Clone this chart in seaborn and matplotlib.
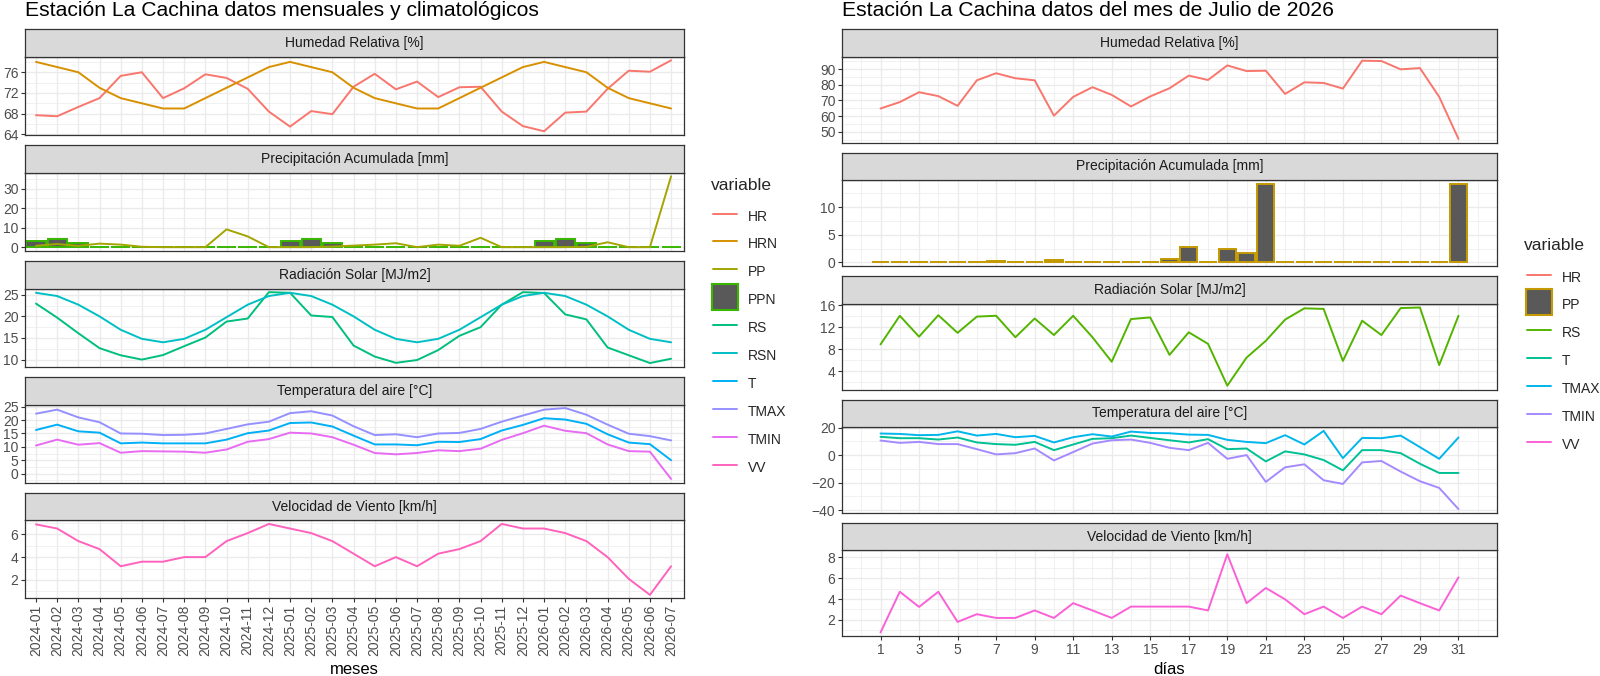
import pandas as pd
import matplotlib
matplotlib.use("Agg")
import matplotlib.pyplot as plt
import seaborn as sns
from matplotlib.ticker import MultipleLocator, FixedLocator
from matplotlib.lines import Line2D

# ---------------- datos mensuales (izquierda) ----------------
meses = ["2024-01", "2024-02", "2024-03", "2024-04", "2024-05", "2024-06", "2024-07",
         "2024-08", "2024-09", "2024-10", "2024-11", "2024-12", "2025-01", "2025-02",
         "2025-03", "2025-04", "2025-05", "2025-06", "2025-07", "2025-08", "2025-09",
         "2025-10", "2025-11", "2025-12", "2026-01", "2026-02", "2026-03", "2026-04",
         "2026-05", "2026-06", "2026-07"]

hr_m = [67.7, 67.5, 69.3, 71.0, 75.3, 76.0, 71.0, 72.9, 75.6, 74.9, 72.8, 68.4, 65.5, 68.5,
        67.9, 73.2, 75.7, 72.7, 74.2, 71.2, 73.1, 73.2, 68.4, 65.6, 64.6, 68.2, 68.4, 72.8,
        76.3, 76.1, 78.3]
hrn_m = [78, 77, 76, 73, 71, 70, 69, 69, 71, 73, 75, 77, 78, 77, 76, 73, 71, 70, 69, 69,
         71, 73, 75, 77, 78, 77, 76, 73, 71, 70, 69]
pp_m = [0.7, 1.6, 0.7, 1.8, 1.3, 0.2, 0, 0, 0, 9.1, 5.5, 0, 0, 0, 0.3, 0.8, 1.3, 2.0, 0,
        1.3, 0.7, 4.8, 0, 0, 0, 0, 0.2, 2.5, 0, 0, 36.3]
ppn_m = [3.2, 4.0, 2.0, 0, 0, 0, 0, 0, 0, 0, 0, 0, 3.2, 4.0, 2.0, 0, 0, 0, 0, 0, 0, 0, 0, 0,
         3.2, 4.0, 2.0, 0, 0, 0, 0]
rs_m = [22.95, 19.7, 16.1, 12.65, 11.0, 10.0, 11.05, 13.1, 15.1, 18.8, 19.5, 25.6, 25.45,
        20.2, 19.85, 13.25, 10.7, 9.25, 9.9, 12.2, 15.5, 17.5, 22.7, 25.6, 25.4, 20.45, 19.3,
        12.8, 11.0, 9.2, 10.2]
rsn_m = [25.45, 24.7, 22.7, 20.0, 16.9, 14.8, 14.0, 14.8, 16.9, 19.8, 22.7, 24.7, 25.45,
         24.7, 22.7, 20.0, 16.9, 14.8, 14.0, 14.8, 16.9, 19.8, 22.7, 24.7, 25.45, 24.7, 22.7,
         20.0, 16.9, 14.8, 14.0]
tmax_m = [22.4, 23.9, 21.0, 19.2, 15.0, 14.9, 14.4, 14.5, 15.0, 16.7, 18.4, 19.4, 22.6, 23.3,
          21.7, 17.7, 14.4, 14.7, 13.6, 15.0, 15.2, 16.7, 19.4, 21.7, 23.9, 24.5, 22.0, 18.3,
          14.9, 14.0, 12.4]
t_m = [16.3, 18.3, 15.8, 15.3, 11.3, 11.6, 11.3, 11.3, 11.3, 12.7, 15.1, 16.1, 18.9, 19.1,
       17.6, 14.2, 10.9, 10.9, 10.6, 11.9, 11.8, 12.9, 16.1, 18.2, 20.7, 20.2, 18.6, 14.7,
       11.6, 11.0, 5.0]
tmin_m = [10.5, 12.7, 10.8, 11.4, 7.8, 8.4, 8.3, 8.2, 7.8, 9.0, 11.9, 12.9, 15.3, 15.0, 13.6,
          10.8, 7.7, 7.2, 7.7, 8.7, 8.4, 9.3, 12.6, 15.1, 17.9, 16.0, 15.1, 10.9, 8.4, 8.2, -2.0]
vv_m = [6.86, 6.5, 5.4, 4.7, 3.2, 3.6, 3.6, 4.0, 4.0, 5.4, 6.1, 6.9, 6.5, 6.1, 5.4, 4.3, 3.2,
        4.0, 3.2, 4.3, 4.7, 5.4, 6.9, 6.5, 6.5, 6.1, 5.4, 4.0, 2.1, 0.7, 3.2]

# ---------------- datos diarios julio 2026 (derecha) ----------------
dias = list(range(1, 32))
hr_d = [64.8, 68.9, 75.2, 72.7, 66.5, 82.8, 87.3, 84.1, 82.8, 60.2, 72.2, 78.4, 73.5, 66.1,
        72.5, 77.7, 85.8, 83.0, 92.3, 88.7, 88.9, 74.1, 81.5, 81.1, 77.5, 95.3, 95.1, 89.8,
        90.6, 72.2, 45.4]
pp_d = [0, 0, 0, 0, 0, 0, 0.25, 0, 0, 0.4, 0, 0, 0, 0, 0, 0.6, 2.8, 0, 2.5, 1.6, 14.2, 0,
        0, 0, 0, 0, 0, 0, 0, 0, 14.2]
rs_d = [8.9, 14.1, 10.3, 14.2, 11.0, 13.95, 14.1, 10.2, 13.6, 10.6, 14.1, 10.2, 5.75, 13.5,
        13.8, 7.0, 11.1, 9.0, 1.4, 6.5, 9.55, 13.4, 15.45, 15.35, 5.9, 13.2, 10.6, 15.5, 15.6,
        5.15, 14.1]
t_d = [13.3, 12.3, 12.3, 11.3, 12.8, 9.2, 8.0, 7.5, 9.6, 3.6, 7.7, 11.8, 12.3, 14.2, 12.5,
       10.8, 9.2, 11.6, 4.3, 4.8, -4.6, 2.7, 0.5, -3.6, -11.1, 3.6, 3.6, 1.4, -6.3, -13.0, -13.0]
tmax_d = [15.7, 15.4, 14.5, 14.7, 17.3, 14.2, 15.4, 13.0, 14.0, 9.2, 13.0, 15.2, 13.5, 17.1,
          16.1, 15.9, 14.9, 14.7, 11.1, 9.6, 8.7, 14.5, 7.7, 17.6, -2.2, 12.5, 12.3, 14.2, 5.8,
          -2.7, 12.8]
tmin_d = [10.6, 8.9, 9.6, 8.0, 8.0, 4.3, 0.5, 1.4, 4.8, -3.9, 2.2, 8.4, 10.8, 11.3, 8.9, 5.3,
          3.6, 8.9, -2.7, 0.0, -19.5, -8.9, -6.7, -18.3, -21.0, -5.3, -4.3, -12.0, -19.0,
          -23.9, -39.3]
vv_d = [0.78, 4.7, 3.24, 4.7, 1.8, 2.54, 2.18, 2.18, 2.9, 2.18, 3.6, 2.9, 2.18, 3.27, 3.27,
        3.27, 3.27, 2.9, 8.3, 3.6, 5.06, 3.97, 2.54, 3.27, 2.18, 3.27, 2.54, 4.33, 3.6, 2.9,
        6.08]

tit_paneles = ["Humedad Relativa [%]", "Precipitación Acumulada [mm]", "Radiación Solar [MJ/m2]",
               "Temperatura del aire [°C]", "Velocidad de Viento [km/h]"]

# colores hue de ggplot
col_izq = {"HR": "#F8766D", "HRN": "#D89000", "PP": "#A3A500", "PPN": "#39B600",
           "RS": "#00BF7D", "RSN": "#00BFC4", "T": "#00B0F6", "TMAX": "#9590FF",
           "TMIN": "#E76BF3", "VV": "#FF62BC"}
col_der = {"HR": "#F8766D", "PP": "#C49A00", "RS": "#53B400", "T": "#00C094",
           "TMAX": "#00B6EB", "TMIN": "#A58AFF", "VV": "#FB61D7"}

mens = pd.DataFrame({"x": range(len(meses)), "HR": hr_m, "HRN": hrn_m, "PP": pp_m,
                     "PPN": ppn_m, "RS": rs_m, "RSN": rsn_m, "T": t_m, "TMAX": tmax_m,
                     "TMIN": tmin_m, "VV": vv_m})
mens = mens.melt(id_vars="x", var_name="variable", value_name="valor")
diar = pd.DataFrame({"x": dias, "HR": hr_d, "PP": pp_d, "RS": rs_d, "T": t_d,
                     "TMAX": tmax_d, "TMIN": tmin_d, "VV": vv_d})
diar = diar.melt(id_vars="x", var_name="variable", value_name="valor")

sns.set_theme(style="white")
plt.rcParams["font.family"] = ["Liberation Sans", "DejaVu Sans"]

W, H = 1600, 676
TXT = 10  # tamaño texto ejes / strips
fig = plt.figure(figsize=(16, 6.76), dpi=100)


def caja(x0, y0, x1, y1):
    return [x0 / W, 1 - y1 / H, (x1 - x0) / W, (y1 - y0) / H]


def dibujar(df, colores, lineas, barras, ybreaks, x0, x1, strip_top, paso, panel_h,
            xlim, ultimo):
    axes = []
    for i in range(5):
        s0 = strip_top + paso * i
        s1 = s0 + 27.5
        ax = fig.add_axes(caja(x0, s1, x1, s1 + panel_h))
        st = fig.add_axes(caja(x0, s0, x1, s1))
        st.set_facecolor("#D9D9D9")
        st.set_xticks([])
        st.set_yticks([])
        for sp in st.spines.values():
            sp.set_color("#333333")
            sp.set_linewidth(0.9)
        st.text(0.5, 0.5, tit_paneles[i], ha="center", va="center", fontsize=TXT,
                color="#1A1A1A", transform=st.transAxes)

        vals = []
        for var in barras[i]:
            sub = df[df.variable == var]
            ax.bar(sub.x, sub.valor, width=0.9, color="#595959",
                   edgecolor=colores[var], linewidth=1.4, zorder=2)
            vals += list(sub.valor)
        sub = df[df.variable.isin(lineas[i])]
        sns.lineplot(data=sub, x="x", y="valor", hue="variable",
                     palette={v: colores[v] for v in lineas[i]}, legend=False,
                     linewidth=1.4, ax=ax, zorder=3)
        vals += list(sub.valor)
        lo, hi = min(vals), max(vals)
        pad = 0.05 * (hi - lo)
        ax.set_ylim(lo - pad, hi + pad)
        ax.set_xlim(*xlim)
        ax.yaxis.set_major_locator(MultipleLocator(ybreaks[i]))
        ax.yaxis.set_minor_locator(MultipleLocator(ybreaks[i] / 2))
        ax.set_xlabel("")
        ax.set_ylabel("")
        ax.set_facecolor("white")
        ax.set_axisbelow(True)
        ax.grid(which="major", color="#EBEBEB", linewidth=1.0)
        ax.grid(which="minor", color="#EBEBEB", linewidth=0.5)
        for sp in ax.spines.values():
            sp.set_color("#333333")
            sp.set_linewidth(0.9)
        ax.tick_params(axis="both", which="major", length=2.7, width=0.8, color="#333333",
                       labelsize=TXT, labelcolor="#4D4D4D", pad=2, left=True, bottom=True)
        ax.tick_params(which="minor", length=0)
        axes.append(ax)
    for ax in axes[:-1]:
        ax.tick_params(axis="x", which="both", length=0, labelbottom=False)
    ultimo(axes[-1], axes)
    return axes


def eje_meses(ax, axes):
    for a in axes:
        a.set_xticks(range(len(meses)))
    ax.set_xticklabels(meses, rotation=90)
    ax.set_xlabel("meses", fontsize=12, color="black", labelpad=4)


def eje_dias(ax, axes):
    for a in axes:
        a.xaxis.set_major_locator(FixedLocator(dias[::2]))
        a.xaxis.set_minor_locator(FixedLocator(range(0, 34, 2)))
    ax.set_xticklabels([str(d) for d in dias[::2]])
    ax.set_xlabel("días", fontsize=12, color="black", labelpad=4)


# izquierda
dibujar(mens, col_izq,
        [["HR", "HRN"], ["PP"], ["RS", "RSN"], ["T", "TMAX", "TMIN"], ["VV"]],
        [[], ["PPN"], [], [], []],
        [4, 10, 5, 5, 2], 25, 684, 29.3, 115.9, 78, (-0.52, 30.61), eje_meses)

# derecha
dibujar(diar, col_der,
        [["HR"], [], ["RS"], ["T", "TMAX", "TMIN"], ["VV"]],
        [[], ["PP"], [], [], []],
        [10, 5, 4, 20, 2], 842, 1497, 29.3, 123.4, 86, (-1.0, 33.0), eje_dias)

fig.text(25 / W, 1 - 16.5 / H, "Estación La Cachina datos mensuales y climatológicos",
         fontsize=15.2, va="baseline", ha="left", color="black")
fig.text(842 / W, 1 - 16.5 / H, "Estación La Cachina datos del mes de Julio de 2026",
         fontsize=15.2, va="baseline", ha="left", color="black")


def leyenda(colores, barra, xt, yt, xk, yk):
    fig.text(xt / W, 1 - yt / H, "variable", fontsize=12.5, va="center", ha="left")
    handles = []
    for var, c in colores.items():
        if var == barra:
            handles.append(Line2D([], [], linestyle="none", marker="s", markersize=18.5,
                                  markerfacecolor="#595959", markeredgecolor=c,
                                  markeredgewidth=1.5))
        else:
            handles.append(Line2D([], [], color=c, linewidth=1.4))
    # filas de ~27.8 px
    fig.legend(handles, list(colores.keys()), loc="upper left",
               bbox_to_anchor=(xk / W, 1 - yk / H), frameon=False, fontsize=TXT,
               handlelength=1.73, handleheight=1.73, labelspacing=0.64, handletextpad=0.8,
               borderpad=0, borderaxespad=0, numpoints=1)


leyenda(col_izq, "PPN", 711, 185, 713, 206.5)
leyenda(col_der, "PP", 1524, 245.7, 1527, 267.5)

fig.savefig("out.png", dpi=100)
